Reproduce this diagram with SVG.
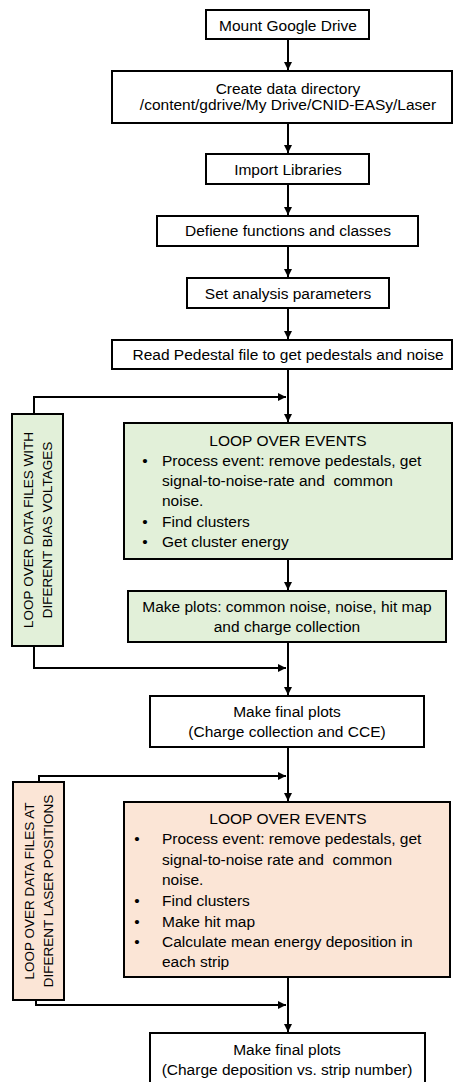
<svg xmlns="http://www.w3.org/2000/svg" width="453" height="1082" viewBox="0 0 453 1082">
<style>
.box{fill:#ffffff;stroke:#000000;stroke-width:2}
.green{fill:#e2f0d9;stroke:#000000;stroke-width:2}
.peach{fill:#fbe5d6;stroke:#000000;stroke-width:2}
text{font-family:"Liberation Sans",Arial,sans-serif;font-size:15.5px;fill:#000000}
.c{text-anchor:middle}
.v{font-size:13.5px;text-anchor:middle}
.pre{white-space:pre}
.conn{fill:none;stroke:#000000;stroke-width:2}
</style>
<defs>
<marker id="arr" markerUnits="userSpaceOnUse" markerWidth="9" markerHeight="9" refX="8" refY="4.5" orient="auto">
<path d="M0,0.5 L8,4.5 L0,8.5 z" fill="#000000"/>
</marker>
</defs>
<g id="connectors">
<path class="conn" d="M288,39 V70" marker-end="url(#arr)"/>
<path class="conn" d="M288,123 V153" marker-end="url(#arr)"/>
<path class="conn" d="M288,184 V215" marker-end="url(#arr)"/>
<path class="conn" d="M288,246 V277" marker-end="url(#arr)"/>
<path class="conn" d="M288,308 V339" marker-end="url(#arr)"/>
<path class="conn" d="M288,369 V422" marker-end="url(#arr)"/>
<path class="conn" d="M34,414 V397 H286" marker-end="url(#arr)"/>
<path class="conn" d="M288,559 V590" marker-end="url(#arr)"/>
<path class="conn" d="M288,642 V695" marker-end="url(#arr)"/>
<path class="conn" d="M34,646 V668 H286" marker-end="url(#arr)"/>
<path class="conn" d="M288,747 V801" marker-end="url(#arr)"/>
<path class="conn" d="M39,782 V776 H286" marker-end="url(#arr)"/>
<path class="conn" d="M288,977 V1032" marker-end="url(#arr)"/>
<path class="conn" d="M36,1000 V1005 H286" marker-end="url(#arr)"/>
</g>
<g id="mount">
<rect class="box" x="206" y="10" width="163" height="29"/>
<text class="c" x="288" y="31">Mount Google Drive</text>
</g>
<g id="create">
<rect class="box" x="112" y="71" width="340" height="52"/>
<text class="c" x="288" y="94">Create data directory</text>
<text class="c" x="288" y="110">/content/gdrive/My Drive/CNID-EASy/Laser</text>
</g>
<g id="import">
<rect class="box" x="206" y="154" width="163" height="30"/>
<text class="c" x="288" y="175">Import Libraries</text>
</g>
<g id="define">
<rect class="box" x="157" y="216" width="261" height="30"/>
<text class="c" x="288" y="236">Defiene functions and classes</text>
</g>
<g id="params">
<rect class="box" x="187" y="278" width="202" height="30"/>
<text class="c" x="288" y="298.5">Set analysis parameters</text>
</g>
<g id="pedestal">
<rect class="box" x="112" y="340" width="340" height="29"/>
<text class="c" x="288" y="360">Read Pedestal file to get pedestals and noise</text>
</g>
<g id="loop-bias">
<rect class="green" x="12" y="414" width="51" height="232"/>
<text class="v" transform="translate(33,530) rotate(-90)">LOOP OVER DATA FILES WITH</text>
<text class="v" transform="translate(52,530) rotate(-90)">DIFERENT BIAS VOLTAGES</text>
</g>
<g id="events-bias">
<rect class="green" x="124" y="423" width="328" height="136"/>
<text class="c" x="288" y="445.5">LOOP OVER EVENTS</text>
<text x="145" y="466" class="c">•</text>
<text x="162" y="466">Process event: remove pedestals, get</text>
<text x="162" y="486" class="pre">signal-to-noise-rate and  common</text>
<text x="162" y="506">noise.</text>
<text x="145" y="526.5" class="c">•</text>
<text x="162" y="526.5">Find clusters</text>
<text x="145" y="546.5" class="c">•</text>
<text x="162" y="546.5">Get cluster energy</text>
</g>
<g id="plots-bias">
<rect class="green" x="128" y="591" width="318" height="51"/>
<text class="c" x="287" y="611.5">Make plots: common noise, noise, hit map</text>
<text class="c" x="287" y="631.5">and charge collection</text>
</g>
<g id="final-cce">
<rect class="box" x="150" y="696" width="274" height="51"/>
<text class="c" x="287" y="716.5">Make final plots</text>
<text class="c" x="287" y="736.5">(Charge collection and CCE)</text>
</g>
<g id="loop-laser">
<rect class="peach" x="13" y="782" width="51" height="218"/>
<text class="v" transform="translate(34,891) rotate(-90)">LOOP OVER DATA FILES AT</text>
<text class="v" transform="translate(53,891) rotate(-90)">DIFERENT LASER POSITIONS</text>
</g>
<g id="events-laser">
<rect class="peach" x="124" y="802" width="326" height="175"/>
<text class="c" x="288" y="824">LOOP OVER EVENTS</text>
<text x="137" y="844" class="c">•</text>
<text x="162" y="844">Process event: remove pedestals, get</text>
<text x="162" y="865" class="pre">signal-to-noise rate and  common</text>
<text x="162" y="885">noise.</text>
<text x="137" y="906" class="c">•</text>
<text x="162" y="906">Find clusters</text>
<text x="137" y="926.5" class="c">•</text>
<text x="162" y="926.5">Make hit map</text>
<text x="137" y="946.5" class="c">•</text>
<text x="162" y="946.5">Calculate mean energy deposition in</text>
<text x="162" y="967">each strip</text>
</g>
<g id="final-strip">
<rect class="box" x="150" y="1033" width="275" height="60"/>
<text class="c" x="287" y="1055">Make final plots</text>
<text class="c" x="287" y="1075">(Charge deposition vs. strip number)</text>
</g>
</svg>
